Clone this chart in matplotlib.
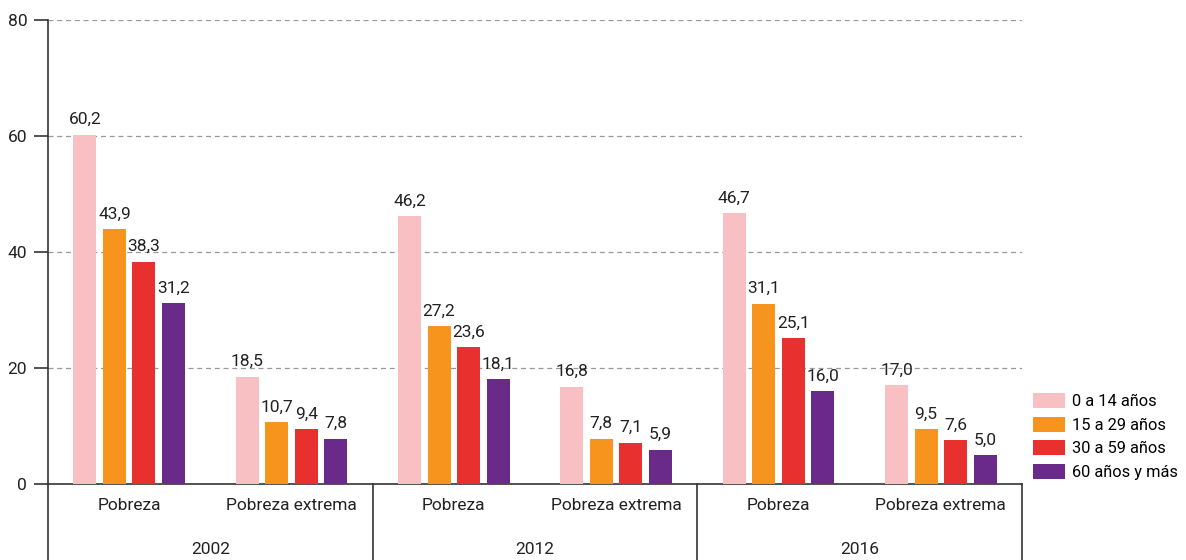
import matplotlib
matplotlib.use("Agg")
import matplotlib.pyplot as plt
import matplotlib.transforms as mtransforms
from matplotlib.patches import Patch

plt.rcParams['font.family'] = ['Roboto', 'DejaVu Sans']

years = ["2002", "2012", "2016"]
indicators = ["Pobreza", "Pobreza extrema"]
series_labels = ["0 a 14 años", "15 a 29 años", "30 a 59 años", "60 años y más"]
colors = ["#F9C0C4", "#F7941D", "#E8312F", "#6A2A8A"]

# values per age group, in order: 2002 Pob, 2002 PE, 2012 Pob, 2012 PE, 2016 Pob, 2016 PE
age_0_14 = [60.2, 18.5, 46.2, 16.8, 46.7, 17.0]
age_15_29 = [43.9, 10.7, 27.2, 7.8, 31.1, 9.5]
age_30_59 = [38.3, 9.4, 23.6, 7.1, 25.1, 7.6]
age_60_plus = [31.2, 7.8, 18.1, 5.9, 16.0, 5.0]
series = [age_0_14, age_15_29, age_30_59, age_60_plus]

yticks = [0, 20, 40, 60, 80]

W, H = 1186, 560
fig = plt.figure(figsize=(W / 100, H / 100), dpi=100)
ax = fig.add_axes([48 / W, 1 - 484 / H, (1022 - 48) / W, (484 - 20) / H])

pitch = 0.182
width = 0.142
ncat = len(age_0_14)
for i, (vals, col) in enumerate(zip(series, colors)):
    xs = [c + (i - 1.5) * pitch for c in range(ncat)]
    ax.bar(xs, vals, width=width, color=col, zorder=3)
    for x, v in zip(xs, vals):
        ax.text(x, v + 1.3, f"{v:.1f}".replace(".", ","), ha="center", va="bottom",
                fontsize=12.5, color="#222222", zorder=4)

ax.set_xlim(-0.5, ncat - 0.5)
ax.set_ylim(0, 80)
ax.set_yticks(yticks)
ax.set_yticklabels([str(t) for t in yticks], fontsize=12.5, color="#222222")
ax.tick_params(axis="y", length=10, width=1.2, color="#333333", pad=5)
ax.set_xticks([])
for y in yticks[1:]:
    ax.axhline(y, color="#999999", linestyle=(0, (4, 3)), linewidth=0.9, zorder=1)

for s in ["top", "right"]:
    ax.spines[s].set_visible(False)
ax.spines["left"].set_color("#333333")
ax.spines["left"].set_linewidth(1.2)
ax.spines["bottom"].set_color("#333333")
ax.spines["bottom"].set_linewidth(1.2)

trans = mtransforms.blended_transform_factory(ax.transData, ax.transAxes)
depth = -(560 - 484) / 464
for k in range(len(years) + 1):
    xb = -0.5 + 2 * k
    ax.plot([xb, xb], [0, depth], transform=trans, color="#333333", lw=1.2, clip_on=False)

for c in range(ncat):
    ax.text(c, -22 / 464, indicators[c % 2], transform=trans, ha="center", va="center",
            fontsize=12.5, color="#222222")
for k, yr in enumerate(years):
    ax.text(2 * k + 0.5, -65 / 464, yr, transform=trans, ha="center", va="center",
            fontsize=12.5, color="#222222")

handles = [Patch(facecolor=c, edgecolor="none") for c in colors]
fig.legend(handles, series_labels, loc="upper left",
           bbox_to_anchor=(1033 / W, 1 - 393 / H), frameon=False, fontsize=11.8,
           handlelength=1.95, handleheight=1.05, labelspacing=0.45, handletextpad=0.4,
           borderpad=0, borderaxespad=0)

fig.savefig("out.png", dpi=100)
